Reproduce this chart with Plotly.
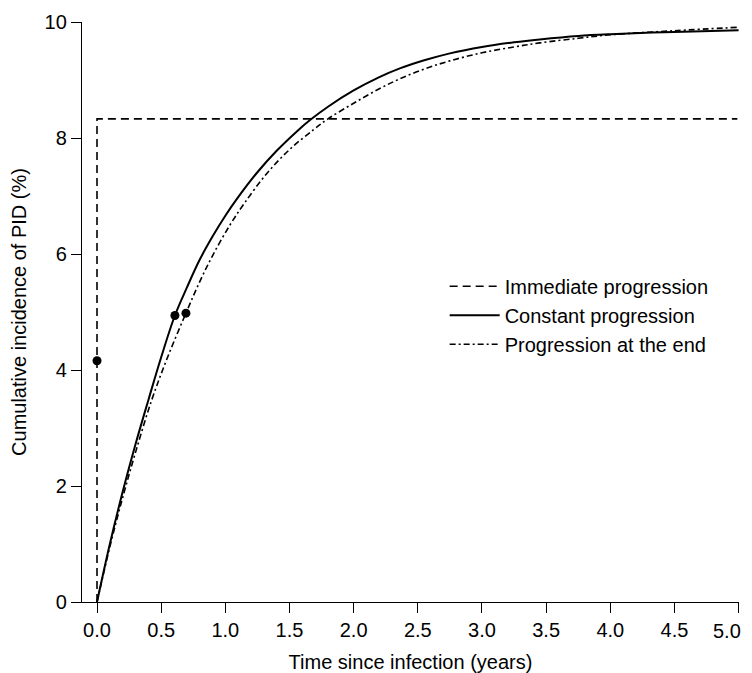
import plotly.graph_objects as go

# Immediate progression (dashed step)
imm_t = [0.0, 0.0, 4.99]
imm_y = [0.0, 8.33, 8.33]

# Constant progression (solid)
const_t = [0.0, 0.1, 0.2, 0.3, 0.4, 0.5, 0.607, 0.7, 0.8, 0.9, 1.0, 1.1, 1.25, 1.4, 1.555, 1.66,
           1.8, 2.0, 2.2, 2.36, 2.55, 2.75, 3.0, 3.25, 3.45, 3.75, 4.0, 4.5, 5.0]
const_y = [0.0, 1.0, 1.9, 2.72, 3.48, 4.22, 4.94, 5.42, 5.9, 6.3, 6.66, 6.98, 7.41, 7.78, 8.11, 8.31,
           8.54, 8.82, 9.05, 9.20, 9.34, 9.46, 9.57, 9.65, 9.70, 9.76, 9.79, 9.83, 9.86]

# Progression at the end (dash-dot)
end_t = [0.0, 0.1, 0.2, 0.3, 0.426, 0.55, 0.693, 0.8, 0.9, 1.036, 1.15, 1.32, 1.5, 1.685, 1.8,
         2.0, 2.2, 2.36, 2.55, 2.75, 3.0, 3.25, 3.45, 3.75, 4.0, 4.5, 5.0]
end_y = [0.0, 0.95, 1.80, 2.58, 3.48, 4.22, 4.98, 5.52, 5.97, 6.50, 6.88, 7.38, 7.80, 8.14, 8.33,
         8.60, 8.85, 9.02, 9.19, 9.33, 9.47, 9.57, 9.64, 9.72, 9.78, 9.85, 9.91]

# Marked points
pt_t = [0.0, 0.607, 0.693]
pt_y = [4.16, 4.94, 4.98]

x_ticks = [0.0, 0.5, 1.0, 1.5, 2.0, 2.5, 3.0, 3.5, 4.0, 4.5, 5.0]
x_labels = [f"{v:.1f}" for v in x_ticks]
y_ticks = [0, 2, 4, 6, 8, 10]

fig = go.Figure()
fig.add_trace(go.Scatter(x=imm_t, y=imm_y, mode="lines", name="Immediate progression",
                         line=dict(color="black", width=1.6, dash="8px,5px")))
fig.add_trace(go.Scatter(x=const_t, y=const_y, mode="lines", name="Constant progression",
                         line=dict(color="black", width=2, shape="spline", smoothing=1.0)))
fig.add_trace(go.Scatter(x=end_t, y=end_y, mode="lines", name="Progression at the end",
                         line=dict(color="black", width=1.6, shape="spline", smoothing=1.0,
                                   dash="6px,3px,2px,3px")))
fig.add_trace(go.Scatter(x=pt_t, y=pt_y, mode="markers", showlegend=False,
                         marker=dict(color="black", size=9)))

axis_common = dict(showline=True, linecolor="black", linewidth=1.4, ticks="outside",
                   ticklen=10, tickwidth=1.4, tickcolor="black", showgrid=False,
                   zeroline=False, automargin=False, ticklabeloverflow="allow",
                   tickfont=dict(size=20, color="black"),
                   title_font=dict(size=20, color="black"))

# last tick label is drawn as an annotation so it stays inside the visible page
fig.update_xaxes(range=[-0.117, 5.003], tickvals=x_ticks,
                 ticktext=x_labels[:-1] + [""],
                 title_text="Time since infection (years)", title_standoff=14, **axis_common)
fig.update_yaxes(range=[0, 10.0005], tickvals=y_ticks,
                 title_text="Cumulative incidence of PID (%)", title_standoff=12, **axis_common)

fig.add_annotation(x=x_ticks[-1], xref="x", y=0, yref="paper", text=x_labels[-1],
                   showarrow=False, xanchor="right", yanchor="top", xshift=4, yshift=-16,
                   font=dict(size=20, color="black"))

# page body has an 8px default margin, so the figure is offset/sized to compensate
fig.update_layout(
    width=744, height=665,
    margin=dict(l=74, r=13, t=14, b=71),
    paper_bgcolor="white", plot_bgcolor="white",
    font=dict(family="Liberation Sans, Arial, sans-serif", size=20, color="black"),
    legend=dict(x=0.552, y=0.578, xanchor="left", yanchor="top",
                bgcolor="rgba(0,0,0,0)", itemwidth=50,
                font=dict(size=20, color="black"), tracegroupgap=0),
)

fig.write_html("out.html")
